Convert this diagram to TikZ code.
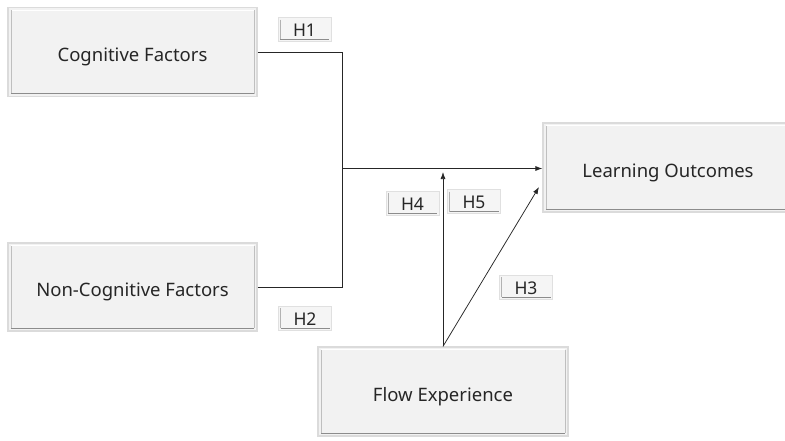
\documentclass[tikz,border=0pt]{standalone}
\usepackage{fontspec}
\setmainfont{Noto Sans}
\usetikzlibrary{arrows.meta}
\tikzset{
  bevel/.style={draw=black!14, line width=1.2pt, fill=black!5, inner sep=0pt,
    font=\fontsize{18.5}{22}\selectfont, text=black!85,
    text height=20pt, text depth=1pt,
    append after command={
      \pgfextra{\let\bnode\tikzlastnode}
      ([shift={(3.5,3.5)}]\bnode.north west) edge[draw=white, line width=1pt] ([shift={(-3.5,3.5)}]\bnode.north east)
      ([shift={(3.5,3.5)}]\bnode.north west) edge[draw=black!25, line width=0.8pt] ([shift={(3.5,-3.5)}]\bnode.south west)
      ([shift={(3.5,-3.5)}]\bnode.south west) edge[draw=black!45, line width=1.2pt] ([shift={(-3.5,-3.5)}]\bnode.south east)
      ([shift={(-3.5,3.5)}]\bnode.north east) edge[draw=black!25, line width=0.8pt] ([shift={(-3.5,-3.5)}]\bnode.south east)
    }},
  mainbox/.style={bevel, minimum height=89pt},
  hlabel/.style={draw=black!12, line width=1pt, fill=black!4, inner sep=0pt,
    minimum width=53pt, minimum height=24pt,
    font=\fontsize{17.5}{20}\selectfont, text=black!85,
    text height=14pt, text depth=0pt,
    append after command={
      \pgfextra{\let\hnode\tikzlastnode}
      ([shift={(2.5,2.5)}]\hnode.north west) edge[draw=black!30, line width=0.7pt] ([shift={(2.5,-2.5)}]\hnode.south west)
      ([shift={(2.5,-2.5)}]\hnode.south west) edge[draw=black!45, line width=1pt] ([shift={(-2.5,-2.5)}]\hnode.south east)
    }},
  conn/.style={draw=black!85, line width=0.75pt},
  arr/.style={conn, -{Latex[length=7pt,width=5pt]}}
}
\begin{document}
\begin{tikzpicture}[x=1pt,y=-1pt]
\useasboundingbox[fill=white] (0,0) rectangle (785,440);
\node[mainbox, minimum width=249pt] (cog) at (132.5,52) {Cognitive Factors};
\node[mainbox, minimum width=249pt, minimum height=88pt] (noncog) at (132.5,287) {Non-Cognitive Factors};
\node[mainbox, minimum width=250pt] (lo) at (668,167.5) {Learning Outcomes};
\node[mainbox, minimum width=250pt] (flow) at (443,391.5) {Flow Experience};

\node[hlabel] (h1) at (304.5,29.5) {H1};
\node[hlabel] (h2) at (305,318) {H2};
\node[hlabel] (h4) at (412.5,203) {H4};
\node[hlabel] (h5) at (474,201.5) {H5};
\node[hlabel] (h3) at (526,287) {H3};

\coordinate (j) at (342,168.5);
\coordinate (t4) at (443,172);
\coordinate (t3) at (539,187);

\draw[conn] (cog.east) -| (j);
\draw[conn] (noncog.east) -| (j);
\draw[arr] (j) -- (lo.west |- j);
\draw[arr] (flow.north) -- (t4);
\draw[arr] (flow.north) -- (t3);
\end{tikzpicture}
\end{document}
